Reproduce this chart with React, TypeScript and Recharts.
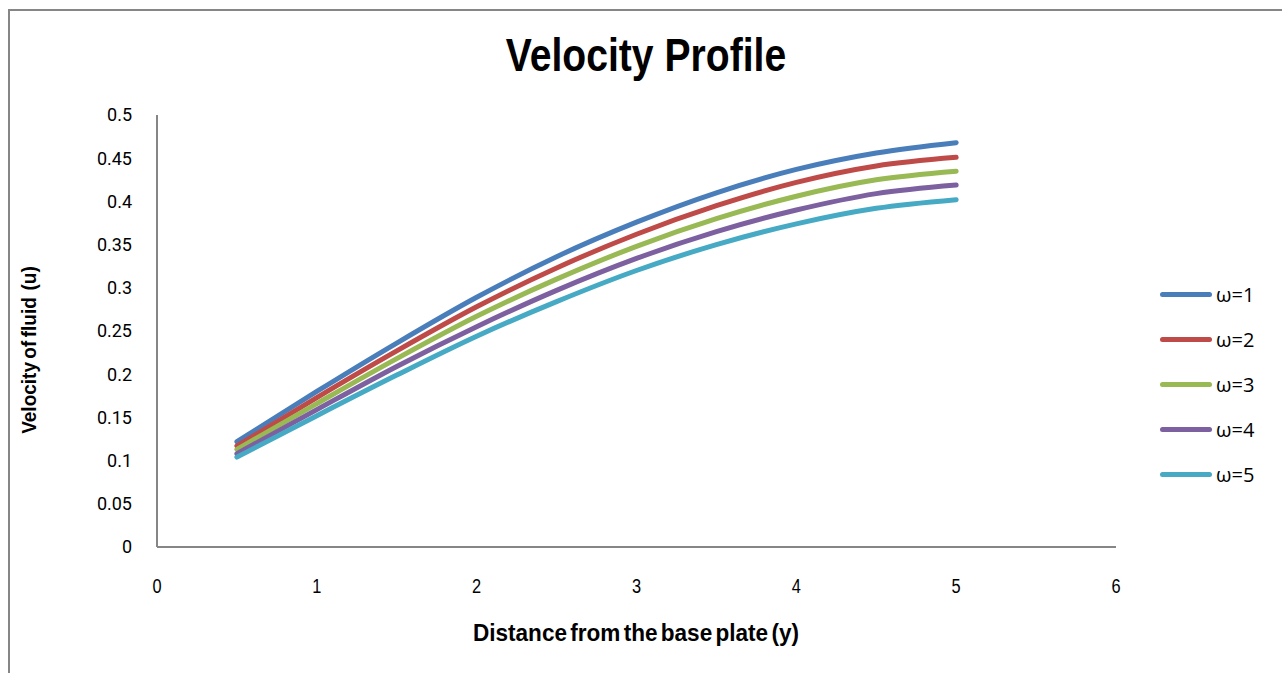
import React from 'react';
import { LineChart, Line, XAxis, YAxis } from 'recharts';

// distance from the base plate (y)
const distance = [0.5, 1, 1.5, 2, 2.5, 3, 3.5, 4, 4.5, 5];

// velocity of fluid (u) for each omega
const omega1 = [0.122, 0.180, 0.236, 0.289, 0.336, 0.376, 0.410, 0.437, 0.456, 0.468];
const omega2 = [0.117, 0.173, 0.227, 0.278, 0.323, 0.362, 0.395, 0.422, 0.441, 0.451];
const omega3 = [0.113, 0.166, 0.218, 0.267, 0.310, 0.348, 0.380, 0.406, 0.425, 0.435];
const omega4 = [0.108, 0.159, 0.209, 0.255, 0.297, 0.334, 0.365, 0.390, 0.409, 0.419];
const omega5 = [0.104, 0.152, 0.199, 0.244, 0.284, 0.320, 0.350, 0.374, 0.392, 0.402];

const seriesNames = ['ω=1', 'ω=2', 'ω=3', 'ω=4', 'ω=5'];
const seriesColors = ['#4A7EBB', '#BE4B48', '#98B954', '#7D60A0', '#46AAC5'];

const xTicks = [0, 1, 2, 3, 4, 5, 6];
const yTicks = [0, 0.05, 0.1, 0.15, 0.2, 0.25, 0.3, 0.35, 0.4, 0.45, 0.5];

const allSeries = [omega1, omega2, omega3, omega4, omega5];
const rows = distance.map((d, i) => {
  const row: any = { y: d };
  seriesNames.forEach((name, s) => {
    row[name] = allSeries[s][i];
  });
  return row;
});

const sans = '"Liberation Sans", Arial, sans-serif';

// x tick labels are drawn squeezed, like a narrow face
const NarrowTick = ({ x, y, payload }: any) => (
  <g transform={`translate(${x},${y})`}>
    <text transform="scale(0.78,1)" textAnchor="middle" dy="0.71em" fill="#000" fontSize={21} fontFamily={sans}>
      {payload.value}
    </text>
  </g>
);

const LegendList = () => (
  <div style={{ position: 'absolute', left: 1160, top: 272 }}>
    {seriesNames.map((name, i) => (
      <div key={name} style={{ display: 'flex', alignItems: 'center', height: 45 }}>
        <div style={{ width: 52, height: 5, borderRadius: 3, background: seriesColors[i], marginRight: 4 }} />
        <span style={{ fontFamily: '"Open Sans", sans-serif', fontSize: 20, color: '#000' }}>{name}</span>
      </div>
    ))}
  </div>
);

export default function App() {
  return (
    <div style={{ position: 'absolute', left: 0, top: 0, width: 1282, height: 673, overflow: 'hidden', background: '#fff' }}>
      <div style={{ position: 'absolute', left: 8, top: 9, width: 1400, height: 800, border: '2px solid #868686' }} />
      <div style={{ position: 'absolute', left: 0, top: 0 }}>
        <LineChart width={1282} height={673} data={rows} margin={{ top: 115, right: 166, bottom: 26, left: 77 }}>
          <XAxis
            dataKey="y"
            type="number"
            domain={[0, 6]}
            ticks={xTicks}
            interval={0}
            height={100}
            tickLine={false}
            tickSize={0}
            tickMargin={31}
            stroke="#868686"
            strokeWidth={2}
            tick={<NarrowTick />}
          />
          <YAxis
            type="number"
            domain={[0, 0.5]}
            ticks={yTicks}
            interval={0}
            width={80}
            tickLine={false}
            tickSize={0}
            tickMargin={25}
            stroke="#868686"
            strokeWidth={2}
            tick={{ fill: '#000', fontSize: 18, fontFamily: 'Roboto, sans-serif' }}
          />
          {seriesNames.map((name, i) => (
            <Line
              key={name}
              type="monotone"
              dataKey={name}
              stroke={seriesColors[i]}
              strokeWidth={5}
              strokeLinecap="round"
              dot={false}
              activeDot={false}
              isAnimationActive={false}
            />
          ))}
        </LineChart>
      </div>
      <div style={{ position: 'absolute', left: 0, top: 28, width: 1292, textAlign: 'center', fontFamily: sans, fontWeight: 'bold', fontSize: 46, color: '#000', transform: 'scaleX(0.85)', transformOrigin: '646px 0' }}>
        Velocity Profile
      </div>
      <div style={{ position: 'absolute', left: 0, top: 620, width: 1272, textAlign: 'center', fontFamily: sans, fontWeight: 'bold', fontSize: 23, color: '#000', transform: 'scaleX(0.98)', transformOrigin: '636px 0', wordSpacing: -3 }}>
        Distance from the base plate (y)
      </div>
      <div style={{ position: 'absolute', left: 30, top: 350, width: 0, height: 0 }}>
        <div style={{ position: 'absolute', left: -100, top: -12, width: 200, textAlign: 'center', fontFamily: sans, fontWeight: 'bold', fontSize: 20, color: '#000', whiteSpace: 'pre', transform: 'rotate(-90deg) scaleX(0.95)', transformOrigin: '100px 12px', wordSpacing: -2 }}>
          {'Velocity of fluid  (u)'}
        </div>
      </div>
      <LegendList />
    </div>
  );
}
